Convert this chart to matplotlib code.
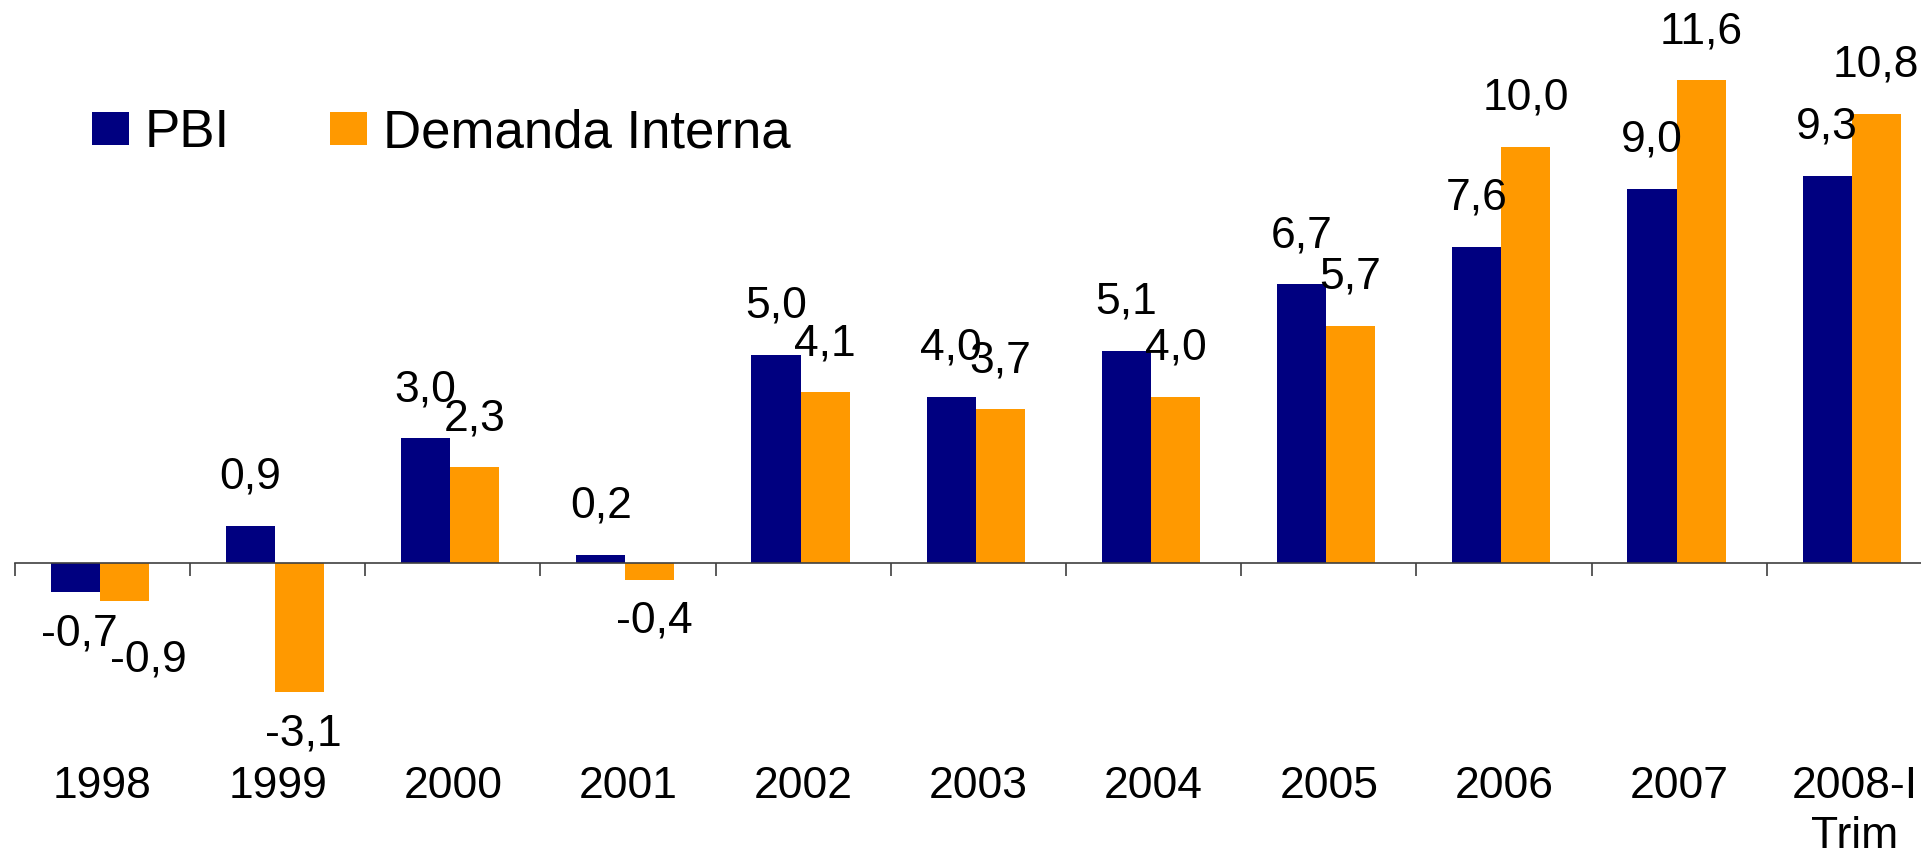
import matplotlib.pyplot as plt
from matplotlib.ticker import FixedLocator
import numpy as np

categories = ['1998', '1999', '2000', '2001', '2002', '2003', '2004',
              '2005', '2006', '2007', '2008-I\nTrim']
pbi = [-0.7, 0.9, 3.0, 0.2, 5.0, 4.0, 5.1, 6.7, 7.6, 9.0, 9.3]
demanda = [-0.9, -3.1, 2.3, -0.4, 4.1, 3.7, 4.0, 5.7, 10.0, 11.6, 10.8]
series_names = ['PBI', 'Demanda Interna']

navy = '#000080'
orange = '#FF9900'

plt.rcParams['font.family'] = ['Liberation Sans', 'DejaVu Sans']

fig = plt.figure(figsize=(19.21, 8.57), dpi=100)
ax = fig.add_axes([0.0077, 0.1486, 1.0032, 0.8257])

x = np.arange(len(categories))
w = 0.28
b1 = ax.bar(x - 0.155, pbi, w, color=navy, label=series_names[0])
b2 = ax.bar(x + 0.125, demanda, w, color=orange, label=series_names[1])

ax.set_xlim(-0.5, len(categories) - 0.5)
ax.set_ylim(-4, 13)


def fmt(v):
    return f'{v:.1f}'.replace('.', ',')


# label nudges (points) where the original moved labels apart
nudge = {(1, 0): (17, -13)}

for s, (bars, vals) in enumerate([(b1, pbi), (b2, demanda)]):
    for i, (bar, v) in enumerate(zip(bars, vals)):
        cx = bar.get_x() + bar.get_width() / 2
        dy = 35 if v >= 0 else -30
        dx = 3 if v < 0 else 0
        if (s, i) in nudge:
            dx, extra = nudge[(s, i)]
            dy += extra
        ax.annotate(fmt(v), (cx, v), xytext=(dx, dy), textcoords='offset points',
                    ha='center', va='center', fontsize=32, color='black')

for side in ['top', 'right', 'left']:
    ax.spines[side].set_visible(False)
ax.spines['bottom'].set_position(('data', 0))
ax.spines['bottom'].set_color('#404040')
ax.spines['bottom'].set_linewidth(1.2)
ax.set_yticks([])

ax.set_xticks(x)
ax.set_xticklabels(categories, fontsize=32)
for lbl in ax.get_xticklabels():
    lbl.set_linespacing(1.28)
ax.xaxis.set_minor_locator(FixedLocator(np.arange(-0.5, len(categories), 1.0)))
ax.tick_params(axis='x', which='major', length=0, pad=146)
ax.tick_params(axis='x', which='minor', length=9, width=1.2, color='#404040',
               direction='out')

fig.legend(handles=[b1, b2], loc='center left',
           bbox_to_anchor=(92 / 1921, 1 - 133 / 857), ncol=2, frameon=False,
           fontsize=38, handlelength=0.7, handleheight=0.6, handletextpad=0.3,
           columnspacing=1.9, borderpad=0, borderaxespad=0)

fig.savefig('out.png', dpi=100)
